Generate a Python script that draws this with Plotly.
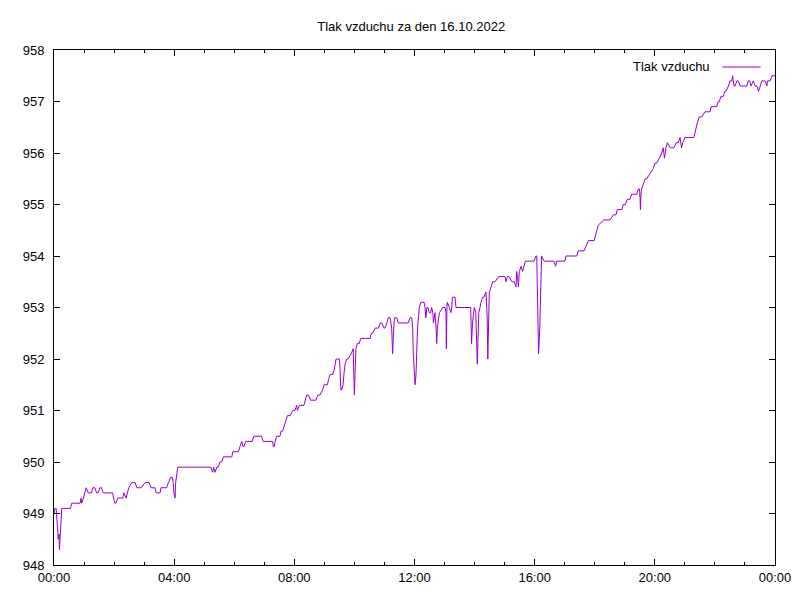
import datetime as dt
import plotly.graph_objects as go

# hours since midnight of 16.10.2022 and air pressure (hPa)
hours = [
    0.00, 0.03, 0.07, 0.09, 0.11, 0.14, 0.17, 0.18, 0.20, 0.23, 0.26, 0.55, 0.59, 0.87, 0.90, 0.92, 0.98,
    1.07, 1.14, 1.25, 1.29, 1.36, 1.42, 1.47, 1.53, 1.58, 1.64, 1.95, 2.02, 2.06, 2.12, 2.29, 2.33,
    2.40, 2.44, 2.49, 2.59, 2.70, 2.76, 2.81, 2.90, 3.03, 3.17, 3.23, 3.36, 3.40, 3.53, 3.56, 3.75,
    3.81, 3.88, 3.94, 3.97, 3.99, 4.03, 4.05, 4.09, 4.12,
    5.22, 5.26, 5.28, 5.31, 5.36, 5.42, 5.47, 5.52, 5.58, 5.64, 5.69, 5.92, 5.95, 6.14, 6.19, 6.25,
    6.29, 6.32, 6.38, 6.44, 6.60, 6.65, 6.91, 6.96, 7.00, 7.28, 7.30, 7.33, 7.36, 7.41, 7.52, 7.56,
    7.61, 7.66, 7.72, 7.77, 7.86, 7.95, 8.02, 8.08,
    8.10, 8.17, 8.32, 8.36, 8.41, 8.47, 8.54, 8.72, 8.78, 8.85, 8.94, 8.99, 9.10, 9.14, 9.19, 9.28,
    9.33, 9.39, 9.50, 9.52, 9.55, 9.58, 9.62, 9.65, 9.69, 9.74, 9.79, 9.89, 9.94, 9.96, 9.98, 10.00,
    10.02, 10.05, 10.10, 10.16, 10.21, 10.52, 10.56, 10.61, 10.69, 10.80, 10.86, 10.91, 10.99, 11.02,
    11.08, 11.13, 11.19, 11.22, 11.24, 11.26, 11.27, 11.30, 11.33, 11.41, 11.46, 11.79, 11.85, 11.91,
    11.94, 11.96, 12.00, 12.02, 12.05, 12.07, 12.10, 12.13, 12.16, 12.21, 12.32, 12.35, 12.38, 12.41,
    12.45, 12.49, 12.54, 12.57, 12.61, 12.63, 12.66, 12.68, 12.72, 12.74, 12.76, 12.79, 12.83, 12.94,
    13.02, 13.05, 13.06, 13.08, 13.09, 13.16, 13.21, 13.24, 13.26, 13.35, 13.38, 13.87, 13.88, 13.90,
    13.93, 13.96, 13.99, 14.04, 14.07, 14.09, 14.11, 14.14, 14.18, 14.21, 14.27, 14.31, 14.38, 14.42,
    14.44, 14.46, 14.49, 14.55, 14.60, 14.68, 14.80, 15.01, 15.05, 15.09, 15.15, 15.24, 15.32, 15.38,
    15.40, 15.43, 15.46, 15.49, 15.55, 15.60, 15.65, 15.69, 15.98, 16.04, 16.07, 16.10, 16.13, 16.17,
    16.20, 16.23, 16.31, 16.64, 16.70, 16.73, 17.01, 17.04, 17.40, 17.45, 17.64, 17.71, 17.79, 17.98,
    18.07, 18.12, 18.30, 18.51, 18.62, 18.71, 18.75, 18.90, 18.95, 19.02, 19.08, 19.17, 19.23, 19.40,
    19.45, 19.49, 19.51, 19.52, 19.54, 19.56, 19.62, 19.68, 19.73, 19.84, 19.95, 20.00, 20.06, 20.15,
    20.23, 20.28, 20.32, 20.37, 20.42, 20.51, 20.64, 20.71, 20.78, 20.84, 20.87, 20.89, 20.93, 21.00,
    21.30, 21.34, 21.37, 21.42, 21.48, 21.56, 21.67, 21.84, 21.87, 22.06, 22.11, 22.15, 22.20, 22.28,
    22.33, 22.37, 22.45, 22.50, 22.56, 22.59, 22.61, 22.64, 22.67, 22.73, 22.78, 22.84, 23.06, 23.11,
    23.16, 23.20, 23.28, 23.34, 23.40, 23.45, 23.51, 23.56, 23.67, 23.73, 23.75, 23.84, 23.90, 24.00,
]
pressure = [
    949.0, 949.1, 949.1, 949.0, 948.8, 948.5, 948.6, 948.3, 948.5, 948.9, 949.1, 949.1, 949.2, 949.2, 949.3, 949.2, 949.3,
    949.5, 949.4, 949.4, 949.5, 949.5, 949.4, 949.4, 949.5, 949.5, 949.4, 949.4, 949.2, 949.2, 949.3, 949.3, 949.4,
    949.3, 949.4, 949.5, 949.6, 949.6, 949.5, 949.5, 949.5, 949.6, 949.6, 949.5, 949.5, 949.4, 949.4, 949.5, 949.5,
    949.6, 949.7, 949.7, 949.6, 949.4, 949.3, 949.6, 949.8, 949.9,
    949.9, 949.8, 949.8, 949.9, 949.8, 949.9, 949.9, 950.0, 950.0, 950.1, 950.1, 950.1, 950.2, 950.2, 950.3, 950.4,
    950.3, 950.3, 950.4, 950.4, 950.4, 950.5, 950.5, 950.4, 950.4, 950.4, 950.3, 950.3, 950.4, 950.5, 950.5, 950.6,
    950.6, 950.7, 950.8, 950.9, 950.9, 951.0, 951.0, 951.1,
    951.0, 951.1, 951.1, 951.2, 951.3, 951.3, 951.2, 951.2, 951.3, 951.3, 951.4, 951.5, 951.5, 951.6, 951.7, 951.7,
    951.8, 952.0, 952.0, 951.8, 951.4, 951.4, 951.5, 951.7, 951.9, 952.0, 952.0, 952.1, 952.2, 952.2, 951.7, 951.3,
    951.7, 952.2, 952.3, 952.3, 952.4, 952.4, 952.5, 952.5, 952.6, 952.6, 952.7, 952.7, 952.6, 952.6,
    952.7, 952.8, 952.8, 952.7, 952.6, 952.3, 952.1, 952.5, 952.8, 952.8, 952.7, 952.7, 952.8, 952.8,
    952.6, 952.1, 951.8, 951.5, 951.7, 952.2, 952.6, 952.8, 953.0, 953.1, 953.1, 953.0, 952.8, 953.0,
    953.0, 952.9, 952.9, 953.0, 952.9, 952.7, 952.8, 952.9, 952.6, 952.3, 952.6, 952.8, 952.9, 953.0,
    953.0, 952.9, 952.2, 953.0, 953.1, 953.0, 952.9, 953.0, 953.2, 953.2, 953.0, 953.0, 952.7, 952.3,
    952.7, 952.9, 953.0, 952.9, 952.5, 951.9, 952.3, 952.9, 953.0, 953.1, 953.2, 953.2, 953.3, 952.8,
    952.0, 952.9, 953.3, 953.4, 953.5, 953.5, 953.6, 953.6, 953.5, 953.6, 953.6, 953.5, 953.5, 953.4,
    953.7, 953.6, 953.4, 953.7, 953.8, 953.7, 953.8, 953.9, 953.9, 954.0, 954.0, 952.6, 952.1, 952.6,
    953.4, 954.0, 953.9, 953.9, 953.8, 953.9, 953.9, 954.0, 954.0, 954.1, 954.1, 954.2, 954.3, 954.3,
    954.5, 954.6, 954.7, 954.7, 954.8, 954.8, 954.9, 954.9, 955.0, 955.0, 955.1, 955.1, 955.2, 955.2,
    955.3, 955.3, 955.1, 954.9, 955.2, 955.3, 955.4, 955.5, 955.5, 955.6, 955.7, 955.8, 955.8, 955.9,
    956.0, 956.1, 955.9, 956.1, 956.2, 956.1, 956.1, 956.2, 956.2, 956.3, 956.2, 956.1, 956.2, 956.3,
    956.3, 956.4, 956.5, 956.6, 956.7, 956.7, 956.8, 956.8, 956.9, 956.9, 957.0, 957.0, 957.1, 957.1,
    957.2, 957.2, 957.3, 957.4, 957.4, 957.5, 957.4, 957.3, 957.3, 957.4, 957.4, 957.3, 957.3, 957.4,
    957.4, 957.3, 957.4, 957.3, 957.3, 957.2, 957.3, 957.4, 957.4, 957.3, 957.4, 957.4, 957.5, 957.5,
]

title_text = "Tlak vzduchu za den 16.10.2022"
series_name = "Tlak vzduchu"

day = dt.datetime(2022, 10, 16)
times = [day + dt.timedelta(hours=h) for h in hours]

FONT = "Liberation Sans, Arial, sans-serif"
LINE_COLOR = "#9400d3"

fig = go.Figure()
fig.add_trace(go.Scatter(
    x=times, y=pressure, mode="lines", name=series_name,
    line=dict(color=LINE_COLOR, width=1), showlegend=False,
))

axis_common = dict(
    showgrid=False, zeroline=False, showline=True, linecolor="black", linewidth=1,
    mirror="allticks", ticks="inside", ticklen=6, tickcolor="black", tickwidth=1,
    tickfont=dict(family=FONT, size=13, color="black"), automargin=False,
)

fig.update_xaxes(
    range=[day, day + dt.timedelta(days=1)],
    tickformat="%H:%M", dtick=4 * 3600000, tick0=day,
    minor=dict(dtick=3600000, ticks="inside", ticklen=3, tickcolor="black", showgrid=False),
    **axis_common,
)
fig.update_yaxes(range=[948, 958], dtick=1, tickformat=".0f", ticklabelstandoff=6, **axis_common)

# legend in gnuplot style: label text followed by line sample
fig.add_annotation(
    x=0.912, y=0.967, xref="paper", yref="paper", text=series_name,
    showarrow=False, xanchor="right", yanchor="middle",
    font=dict(family=FONT, size=13, color="black"),
)
fig.add_shape(
    type="line", xref="paper", yref="paper", x0=0.927, x1=0.980, y0=0.967, y1=0.967,
    line=dict(color=LINE_COLOR, width=1),
)

# the page body adds an 8px offset, so margins are reduced accordingly
fig.update_layout(
    width=800, height=600,
    margin=dict(l=46, r=33, t=42, b=43),
    paper_bgcolor="white", plot_bgcolor="white",
    title=dict(text=title_text, x=0.504, xanchor="center", y=0.97, yanchor="middle",
               font=dict(family=FONT, size=13, color="black")),
    font=dict(family=FONT, size=13, color="black"),
)

fig.write_html("out.html")
